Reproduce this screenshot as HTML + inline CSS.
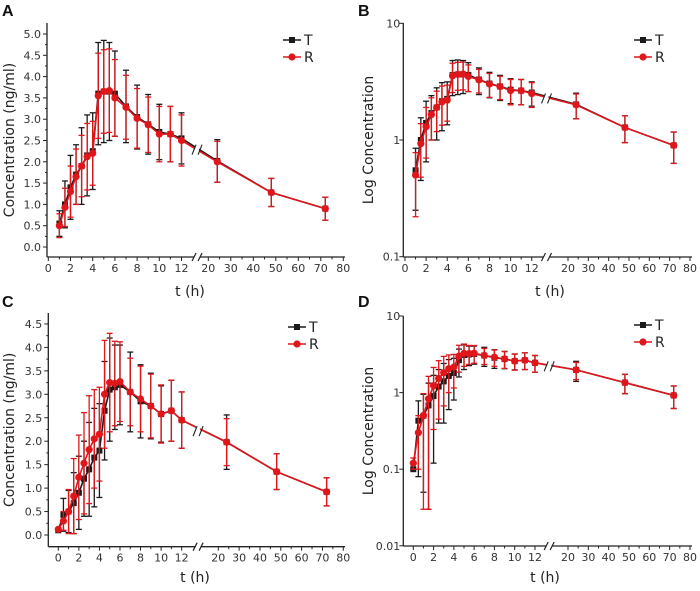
<!DOCTYPE html>
<html><head><meta charset="utf-8"><style>
body{margin:0;background:#fff;}
svg{display:block;font-family:"DejaVu Sans","Liberation Sans",sans-serif;}
</style></head><body>
<svg id="fig" width="700" height="591" viewBox="0 0 700 591"></svg>
<script>
// ---- data ----
const timesAB = [1,1.5,2,2.5,3,3.5,4,4.5,5,5.5,6,7,8,9,10,11,12,24,48,72];
const meanT_AB = [0.55,1.0,1.4,1.7,1.9,2.15,2.25,3.6,3.65,3.65,3.6,3.3,3.05,2.88,2.7,2.65,2.55,2.02,1.28,0.9];
const sdT_AB = [0.3,0.55,0.75,0.7,0.9,0.95,0.9,1.2,1.2,1.15,1.0,0.85,0.75,0.7,0.65,0.65,0.6,0.5,0.33,0.27];
const meanR_AB = [0.5,0.93,1.3,1.65,1.9,2.12,2.2,3.55,3.65,3.67,3.5,3.28,3.02,2.87,2.65,2.65,2.5,2.0,1.28,0.9];
const sdR_AB = [0.28,0.45,0.6,0.65,0.72,0.78,0.75,1.0,0.98,0.98,0.9,0.75,0.7,0.65,0.65,0.65,0.6,0.48,0.33,0.27];
const timesCD = [0,0.5,1,1.5,2,2.5,3,3.5,4,4.5,5,5.5,6,7,8,9,10,11,12,24,48,72];
const meanT_CD = [0.1,0.43,0.5,0.68,0.9,1.2,1.4,1.65,1.8,2.65,3.1,3.15,3.2,3.05,2.85,2.75,2.58,2.65,2.45,1.98,1.35,0.92];
const sdT_CD = [0,0.35,0.45,0.65,0.78,0.8,1.0,1.05,1.0,1.05,1.1,0.9,0.85,0.85,0.78,0.7,0.6,0.65,0.6,0.58,0.38,0.3];
const meanR_CD = [0.12,0.3,0.5,0.83,1.23,1.53,1.82,2.05,2.15,3.0,3.25,3.23,3.27,3.05,2.9,2.75,2.58,2.65,2.45,1.98,1.35,0.92];
const sdR_CD = [0.02,0.2,0.47,0.8,0.9,1.08,1.15,1.05,1.0,1.15,1.05,0.9,0.85,0.72,0.7,0.68,0.62,0.65,0.6,0.5,0.38,0.3];
const yTicksLin_A = ["0.0","0.5","1.0","1.5","2.0","2.5","3.0","3.5","4.0","4.5","5.0"];
const yTicksLin_C = ["0.0","0.5","1.0","1.5","2.0","2.5","3.0","3.5","4.0","4.5"];
const yTicksLog_B = ["0.1","1","10"];
const yTicksLog_D = ["0.01","0.1","1","10"];
const xTicksLeft = [0,2,4,6,8,10,12];
const xTicksRight = [20,30,40,50,60,70,80];

const NS="http://www.w3.org/2000/svg";
const svg=document.getElementById('fig');
function el(tag,attrs,parent){const e=document.createElementNS(NS,tag);for(const k in attrs)e.setAttribute(k,attrs[k]);(parent||svg).appendChild(e);return e;}

function panel(c){
  const g=el('g',{});
  
  
  const X=t=> t<=c.brk ? c.x0+t*c.k1 : c.x20+(t-20)*c.k2;
  const xb=X(c.brk);
  const Y=v=>{
    if(c.log){const lv=Math.log10(v);return c.yTop-(lv-c.lTop)*c.dec;}
    return c.y0-v*c.ku;
  };
  const ax='#222';
  el('line',{x1:c.left,y1:c.top,x2:c.left,y2:c.bottom,stroke:ax,'stroke-width':1.3},g);
  el('line',{x1:c.left,y1:c.bottom,x2:c.right,y2:c.bottom,stroke:ax,'stroke-width':1.3},g);
  if(c.log){
    c.yLabels.forEach(s=>{const y=Y(parseFloat(s));
      el('line',{x1:c.left-4,y1:y,x2:c.left,y2:y,stroke:ax},g);
      const t=el('text',{x:c.left-3,y:y+4,'text-anchor':'end','font-size':11,fill:'#333'},g);t.textContent=s;
      });
  } else {
    c.yLabels.forEach(s=>{const v=parseFloat(s);const y=Y(v);
      el('line',{x1:c.left-4,y1:y,x2:c.left,y2:y,stroke:ax},g);
      const ym=Y(v+0.25); if(v+0.25<=parseFloat(c.yLabels[c.yLabels.length-1])) el('line',{x1:c.left-2,y1:ym,x2:c.left,y2:ym,stroke:ax},g);
      const t=el('text',{x:c.left-6,y:y+4,'text-anchor':'end','font-size':11,fill:'#333'},g);t.textContent=s;
      });
  }
  xTicksLeft.forEach(v=>{if(v<c.xmin)return;const x=X(v);
    el('line',{x1:x,y1:c.bottom,x2:x,y2:c.bottom+4,stroke:ax},g);
    if(v+1<=12) el('line',{x1:X(v+1),y1:c.bottom,x2:X(v+1),y2:c.bottom+2.5,stroke:ax},g);
    const t=el('text',{x:x,y:c.bottom+15,'text-anchor':'middle','font-size':11,fill:'#333'},g);t.textContent=v;
    });
  xTicksRight.forEach(v=>{const x=X(v);
    el('line',{x1:x,y1:c.bottom,x2:x,y2:c.bottom+4,stroke:ax},g);
    if(v+5<=80) el('line',{x1:X(v+5),y1:c.bottom,x2:X(v+5),y2:c.bottom+2.5,stroke:ax},g);
    const t=el('text',{x:x,y:c.bottom+15,'text-anchor':'middle','font-size':11,fill:'#333'},g);t.textContent=v;
    });
  el('rect',{x:xb-3,y:c.bottom-3,width:6,height:6,fill:'#fff'},g);
  el('line',{x1:xb-5,y1:c.bottom+4,x2:xb-1,y2:c.bottom-4,stroke:ax,'stroke-width':1.2},g);
  el('line',{x1:xb+1,y1:c.bottom+4,x2:xb+5,y2:c.bottom-4,stroke:ax,'stroke-width':1.2},g);
  const pl=el('text',{x:c.lx,y:c.ly,'font-size':16,'font-weight':'bold',fill:'#111','font-family':'Liberation Sans, sans-serif'},g);pl.textContent=c.id;
  
  const xl=el('text',{x:c.xlx,y:c.xly,'text-anchor':'middle','font-size':14,fill:'#222'},g);xl.textContent='t (h)';
  
  const yc=(c.top+c.bottom)/2;
  const yl=el('text',{x:c.ylx,y:yc,'text-anchor':'middle','font-size':14,fill:'#222',transform:`rotate(-90 ${c.ylx} ${yc})`},g);yl.textContent=c.ytitle;
  
  const series=[{n:'t',m:c.mT,s:c.sT,col:'#1a1a1a',sq:true},{n:'r',m:c.mR,s:c.sR,col:'#e0161b',sq:false}];
  series.forEach(se=>{
    const sg=el('g',{},g);
    
    
    c.times.forEach((t,i)=>{const x=X(t);const hi=se.m[i]+se.s[i];let lo=se.m[i]-se.s[i];
      if(c.log) lo=Math.max(lo,c.lmin); else lo=Math.max(lo,0);
      el('line',{x1:x,y1:Y(hi),x2:x,y2:Y(lo),stroke:se.col,'stroke-width':1.3},sg);
      el('line',{x1:x-3,y1:Y(hi),x2:x+3,y2:Y(hi),stroke:se.col,'stroke-width':1.3},sg);
      el('line',{x1:x-3,y1:Y(lo),x2:x+3,y2:Y(lo),stroke:se.col,'stroke-width':1.3},sg);
    });
    el('polyline',{points:c.times.map((t,i)=>X(t)+','+Y(se.m[i])).join(' '),fill:'none',stroke:se.col,'stroke-width':1.6},sg);
    c.times.forEach((t,i)=>{const x=X(t),y=Y(se.m[i]);
      const mk=se.sq?el('rect',{x:x-3,y:y-3,width:6,height:6,fill:se.col},sg):el('circle',{cx:x,cy:y,r:3.6,fill:se.col},sg);
      });
  });
  const yb=(Y(c.mT[c.times.indexOf(12)])+Y(c.mT[c.times.indexOf(24)]))/2;
  el('rect',{x:xb-2,y:yb-6,width:4,height:12,fill:'#fff'},g);
  el('line',{x1:xb-5,y1:yb+5,x2:xb-1,y2:yb-5,stroke:ax,'stroke-width':1.1},g);
  el('line',{x1:xb+1,y1:yb+5,x2:xb+5,y2:yb-5,stroke:ax,'stroke-width':1.1},g);
  const lg=el('g',{},g);
  [['T','#1a1a1a',true],['R','#e0161b',false]].forEach((d,i)=>{const y=c.legY+i*17;
    el('line',{x1:c.legX,y1:y,x2:c.legX+18,y2:y,stroke:d[1],'stroke-width':1.6},lg);
    if(d[2]) el('rect',{x:c.legX+6,y:y-3,width:6,height:6,fill:d[1]},lg); else el('circle',{cx:c.legX+9,cy:y,r:3.6,fill:d[1]},lg);
    const t=el('text',{x:c.legX+21,y:y+5,'font-size':14,fill:'#222'},lg);t.textContent=d[0];
    });
}

panel({id:'A',log:false,times:timesAB,mT:meanT_AB,sT:sdT_AB,mR:meanR_AB,sR:sdR_AB,xmin:0,
  x0:48.3,k1:11.1,x20:208.3,k2:2.25,brk:13.4,y0:247,ku:42.6,left:47,right:345,top:23,bottom:257,
  yLabels:yTicksLin_A,lx:2,ly:16,xlx:190,xly:296,ylx:14,ytitle:'Concentration (ng/ml)',legX:283,legY:40});
panel({id:'B',log:true,times:timesAB,mT:meanT_AB,sT:sdT_AB,mR:meanR_AB,sR:sdR_AB,xmin:0,
  x0:405,k1:10.56,x20:568,k2:2.033,brk:13.4,yTop:23.3,lTop:1,dec:116.7,lmin:0.1,left:403.3,right:692,top:23,bottom:257,
  yLabels:yTicksLog_B,lx:358,ly:16,xlx:550,xly:296,ylx:373,ytitle:'Log Concentration',legX:634,legY:40});
panel({id:'C',log:false,times:timesCD,mT:meanT_CD,sT:sdT_CD,mR:meanR_CD,sR:sdR_CD,xmin:0,
  x0:58.3,k1:10.28,x20:218.3,k2:2.083,brk:13.6,y0:535,ku:46.9,left:48.3,right:345,top:313,bottom:546.7,
  yLabels:yTicksLin_C,lx:2,ly:307,xlx:195,xly:582,ylx:14,ytitle:'Concentration (ng/ml)',legX:288,legY:327});
panel({id:'D',log:true,times:timesCD,mT:meanT_CD,sT:sdT_CD,mR:meanR_CD,sR:sdR_CD,xmin:0,
  x0:413.3,k1:10.14,x20:568,k2:2.033,brk:13.4,yTop:316,lTop:1,dec:76.6,lmin:0.02,left:403.3,right:692,top:316,bottom:546,
  yLabels:yTicksLog_D,lx:358,ly:307,xlx:545,xly:582,ylx:373,ytitle:'Log Concentration',legX:634,legY:325});
</script>
</body></html>
